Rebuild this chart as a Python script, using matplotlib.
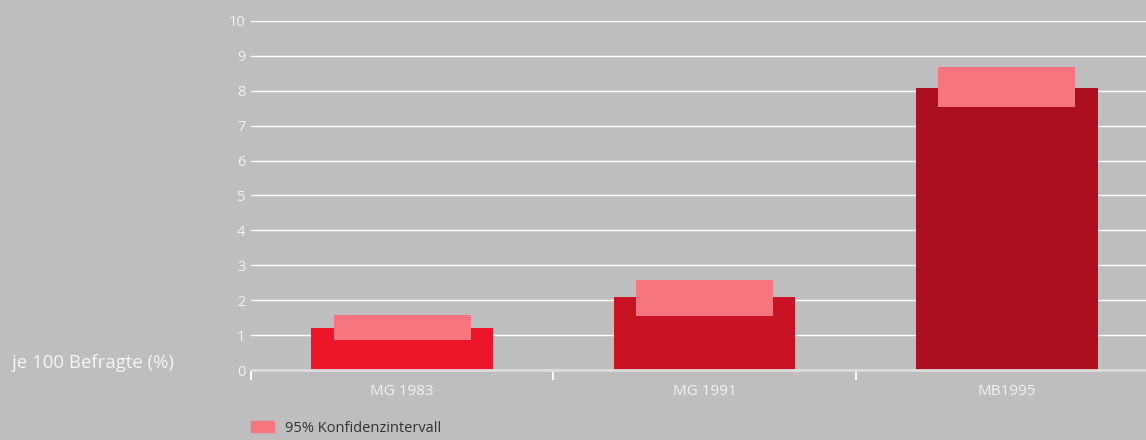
import numpy as np
import matplotlib
matplotlib.use("Agg")
import matplotlib.pyplot as plt
from matplotlib.patches import Patch

plt.rcParams['font.family'] = ['Open Sans', 'DejaVu Sans']

# data
categories = ['MG 1983', 'MG 1991', 'MB1995']
values = [1.2, 2.09, 8.08]
ci_low = [0.86, 1.55, 7.54]
ci_high = [1.58, 2.58, 8.68]
bar_colors = ['#ED1529', '#C81324', '#AC1020']
ci_color = '#F6757F'
bg = '#BEBEBE'

fig = plt.figure(figsize=(11.46, 4.4), dpi=100, facecolor=bg)
ax = fig.add_axes([251 / 1146, 1 - 370 / 440, 1 - 251 / 1146, (370 - 21) / 440])
ax.set_facecolor(bg)

x = np.arange(len(categories))
ax.bar(x, values, width=0.6, color=bar_colors, zorder=3)
ax.bar(x, np.array(ci_high) - np.array(ci_low), bottom=ci_low, width=0.453,
       color=ci_color, zorder=4)

ax.set_xlim(-0.5, 2.46)
ax.set_ylim(0, 10)
ax.set_yticks(range(0, 11))
ax.yaxis.grid(True, color='white', lw=1.0, zorder=1)
for s in ['top', 'right', 'left']:
    ax.spines[s].set_visible(False)
ax.spines['bottom'].set_color('#DCDCDC')
ax.spines['bottom'].set_linewidth(2)
ax.spines['bottom'].set_zorder(5)

ax.tick_params(axis='y', length=0, pad=4, labelsize=10.5, labelcolor='#F2F2F2')
ax.set_xticks(x)
ax.set_xticklabels(categories)
ax.tick_params(axis='x', which='major', length=0, pad=10, labelsize=11,
               labelcolor='#F2F2F2')
ax.set_xticks([-0.5, 0.5, 1.5], minor=True)
ax.tick_params(axis='x', which='minor', length=7, width=1.5, color='white',
               direction='out')

fig.text(12 / 1146, 1 - 363 / 440, 'je 100 Befragte (%)', color='#F5F5F5',
         fontsize=13.4, va='center', ha='left')

leg = fig.legend(handles=[Patch(color=ci_color, label='95% Konfidenzintervall')],
                 loc='center left', bbox_to_anchor=(238 / 1146, 1 - 428 / 440),
                 frameon=False, fontsize=10.5, labelcolor='#333333',
                 handlelength=1.6, handleheight=0.8, handletextpad=0.75)

fig.savefig('out.png', dpi=100, facecolor=bg)
